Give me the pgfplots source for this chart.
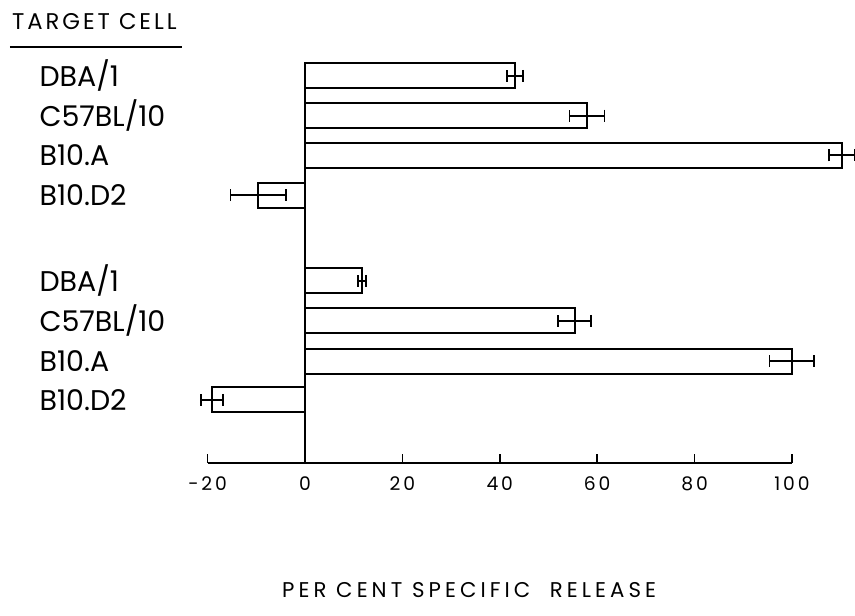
\documentclass[border=0pt]{standalone}
\usepackage{fontspec}
\setmainfont{Poppins}
\usepackage{pgfplots}
\usepackage{pgfplotstable}
\pgfplotsset{compat=1.18}

% row position, per cent specific release, error
\pgfplotstableread{
y      val    err
0      43.1   1.6
-1     57.9   3.6
-2     110.3  2.7
-3     -9.6   5.7
}\upperset
\pgfplotstableread{
y      val    err
-5.16  11.7   0.8
-6.17  55.4   3.4
-7.18  100.0  4.6
-8.16  -19.1  2.2
}\lowerset

\pgfplotsset{
  releasebar/.style={xbar, bar width=12.5bp, bar shift=0pt, fill=white,
    draw=black, line width=1bp,
    error bars/.cd, x dir=both, x explicit,
    error bar style={line width=0.9bp, black},
    error mark=|,
    error mark options={black, mark size=3bp, line width=0.9bp}},
}

\begin{document}
\begin{tikzpicture}
\begin{axis}[
  x=2.435bp, y=19.85bp,
  xmin=-20, xmax=100, ymin=-9.75, ymax=0.33,
  axis x line=bottom, axis y line=middle,
  hide obscured x ticks=false,
  axis line style={-, line width=1bp, black},
  xtick={-20,0,20,40,60,80,100},
  xtick align=inside,
  major tick length=4.5bp,
  xtick style={line width=0.8bp, black},
  ytick={0,-1,-2,-3,-5.16,-6.17,-7.18,-8.16},
  yticklabels={DBA/1,C57BL/10,B10.A,B10.D2,DBA/1,C57BL/10,B10.A,B10.D2},
  ytick style={draw=none},
  yticklabel style={anchor=west, xshift=-134bp,
    font=\fontsize{14.3}{16}\selectfont},
  xticklabel style={font=\fontsize{9.4}{11}\selectfont\addfontfeature{LetterSpace=15},
    yshift=-3.5bp},
  /pgf/number format/assume math mode=true,
  clip=false,
]
\addplot[releasebar] table[x=val, y=y, x error=err] {\upperset};
\addplot[releasebar] table[x=val, y=y, x error=err] {\lowerset};

\node[anchor=west, inner sep=0pt,
  font=\fontsize{11.4}{13}\selectfont\addfontfeature{LetterSpace=13}]
  at (axis cs:-60.2,1.36) {TARGET CELL};
\draw[line width=1bp] (axis cs:-60.6,0.73) -- (axis cs:-25.3,0.73);
\node[inner sep=0pt,
  font=\fontsize{10.7}{13}\selectfont\addfontfeature{LetterSpace=19}]
  at (axis cs:33.7,-12.95) {PER CENT SPECIFIC\ \ RELEASE};

\coordinate (bl) at (axis cs:-62.63,-13.6);
\coordinate (tr) at (axis cs:112.94,1.914);
\end{axis}
\pgfresetboundingbox
\path[use as bounding box] (bl) rectangle (tr);
\end{tikzpicture}
\end{document}
